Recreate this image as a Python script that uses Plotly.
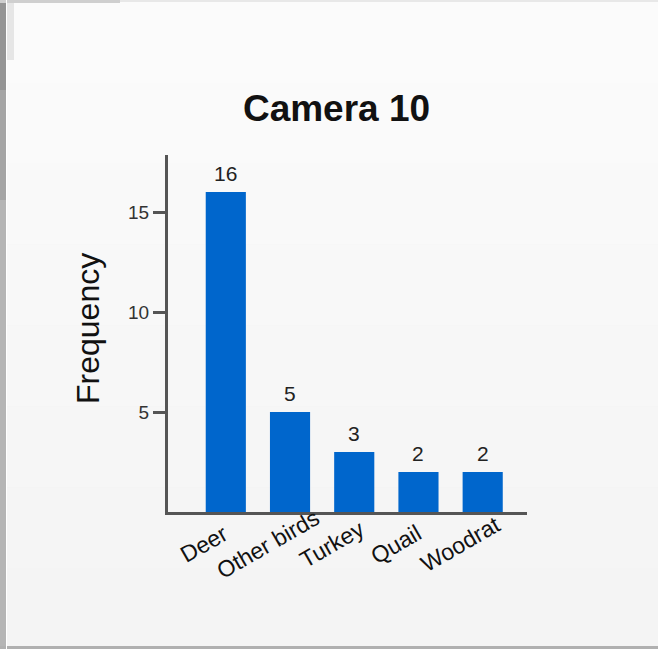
import plotly.graph_objects as go

categories = ["Deer", "Other birds", "Turkey", "Quail", "Woodrat"]
frequency = [16, 5, 3, 2, 2]
y_ticks = [5, 10, 15]
title_text = "Camera 10"
y_title = "Frequency"

W, H = 658, 649
ML, MR, MT, MB = 168, 131, 155, 137
PW = W - ML - MR
PH = H - MT - MB

def px_x(p):
    return (p - ML) / PW

def px_y(p):
    return 1 - (p - MT) / PH

fig = go.Figure()
fig.add_trace(go.Bar(
    x=categories, y=frequency,
    marker=dict(color="#0066cc", line=dict(width=0)),
    cliponaxis=False,
))

def rect(x0, x1, y0, y1, color):
    return dict(type="rect", xref="paper", yref="paper",
                x0=px_x(x0), x1=px_x(x1), y0=px_y(y0), y1=px_y(y1),
                fillcolor=color, line=dict(width=0), layer="below")

shapes = [rect(0, W, 0, H, "#f3f3f3")]
band_colors = ["#fbfbfb", "#fafafa", "#f9f9f9", "#f8f8f8", "#f7f7f7", "#f6f6f6", "#f5f5f5", "#f4f4f4"]
nb = len(band_colors)
for i, c in enumerate(band_colors):
    shapes.append(rect(6, W, 2 + i * (H - 2) / nb, 2 + (i + 1) * (H - 2) / nb, c))
shapes.append(rect(0, 6, 0, H, "#b5b5b5"))
shapes.append(rect(0, 6, 0, 200, "#a5a5a5"))
shapes.append(rect(0, 6, 0, 90, "#959595"))
shapes.append(rect(6, 14, 0, 60, "#e6e6e6"))
shapes.append(rect(0, W, 0, 2, "#e8e8e8"))
shapes.append(rect(0, 120, 0, 3, "#cfcfcf"))
shapes.append(rect(0, W, 646, H, "#b0b0b0"))
shapes.append(rect(6, 7, 0, H, "#ffffff"))

annotations = [dict(text=y_title, xref="paper", yref="paper",
                    x=px_x(88), y=px_y(329), xanchor="center", yanchor="middle",
                    textangle=-90, showarrow=False,
                    font=dict(size=32, color="#111111"))]
for c, v in zip(categories, frequency):
    annotations.append(dict(text=str(v), x=c, y=v, xref="x", yref="y",
                            xanchor="center", yanchor="bottom", yshift=5,
                            showarrow=False,
                            font=dict(size=21, color="#222222")))
# rotated category labels
for c in categories:
    annotations.append(dict(text=c, x=c, y=0, xref="x", yref="y",
                            xanchor="center", yanchor="middle",
                            xshift=-22, yshift=-32, textangle=-30,
                            showarrow=False,
                            font=dict(size=23, color="#111111")))

fig.update_layout(
    width=W, height=H,
    margin=dict(l=ML, r=MR, t=MT, b=MB, pad=0),
    paper_bgcolor="#f6f6f6", plot_bgcolor="rgba(0,0,0,0)",
    font=dict(family="Liberation Sans, Arial, sans-serif", color="#222222"),
    title=dict(text="<b>" + title_text + "</b>", x=336.5 / W, xanchor="center",
               y=1 - 108 / H, yanchor="middle", xref="container", yref="container",
               font=dict(size=37, color="#111111", family="Liberation Sans, Arial, sans-serif")),
    bargap=0.375,
    showlegend=False,
    shapes=shapes,
    xaxis=dict(range=[-0.9, 4.69], showline=True, linewidth=3, linecolor="#555555",
               ticks="", showticklabels=False,
               showgrid=False, zeroline=False, fixedrange=True),
    yaxis=dict(range=[0, 17.85], showline=True, linewidth=3, linecolor="#555555",
               ticks="outside", ticklen=12, tickwidth=3, tickcolor="#555555",
               tickvals=y_ticks, tickfont=dict(size=19, color="#333333"),
               showgrid=False, zeroline=False, fixedrange=True),
    annotations=annotations,
)

fig.write_html("out.html", config={"displayModeBar": False},
               post_script="document.body.style.margin='0px';document.body.style.overflow='hidden';")
